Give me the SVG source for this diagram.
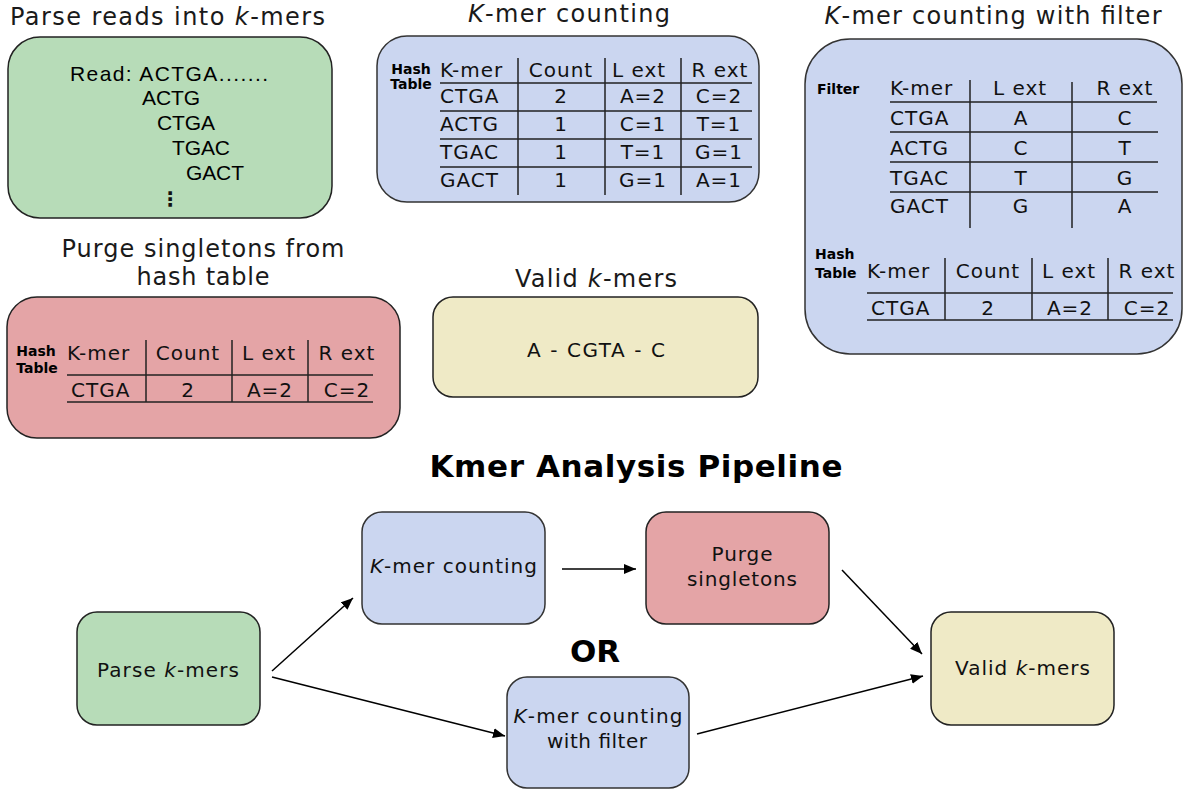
<svg xmlns="http://www.w3.org/2000/svg" width="1184" height="790" viewBox="0 0 1184 790">
  <style>
    .title { font-family: "DejaVu Sans", Verdana, sans-serif; font-size: 24px; fill: #1a1a1a; }
    .head { font-family: "DejaVu Sans", Verdana, sans-serif; font-size: 31px; font-weight: bold; fill: #000; }
    .read { font-family: "Liberation Sans", Arial, sans-serif; font-size: 21px; fill: #000; }
    .cell { font-family: "DejaVu Sans", Verdana, sans-serif; font-size: 20px; fill: #111; letter-spacing: 1px; }
    .lbl { font-family: "DejaVu Sans", Verdana, sans-serif; font-size: 14px; font-weight: bold; fill: #000; }
    .node { font-family: "DejaVu Sans", Verdana, sans-serif; font-size: 20px; fill: #111; }
    .mid { text-anchor: middle; }
    .green { fill: #b7dcb8; stroke: #222; stroke-width: 1.5; }
    .blue { fill: #cbd6f0; stroke: #333; stroke-width: 1.5; }
    .red { fill: #e4a4a6; stroke: #222; stroke-width: 1.5; }
    .yellow { fill: #efeac6; stroke: #222; stroke-width: 1.5; }
    .rule { stroke: #222; stroke-width: 1.5; fill: none; }
    .conn { stroke: #000; stroke-width: 1.5; fill: none; marker-end: url(#arrow); }
  </style>
  <defs>
    <marker id="arrow" markerUnits="userSpaceOnUse" markerWidth="12" markerHeight="10" refX="12" refY="5" orient="auto">
      <path d="M0,0 L12,5 L0,10 z" fill="#000"/>
    </marker>
  </defs>
  <rect width="1184" height="790" fill="#fff"/>

  <!-- Parse reads panel -->
  <g id="panel-parse">
    <text class="title" x="10" y="25" textLength="315" lengthAdjust="spacing">Parse reads into <tspan font-style="italic">k</tspan>-mers</text>
    <rect class="green" x="8" y="37" width="324" height="181" rx="32"/>
    <text class="read" x="70" y="81" textLength="198" lengthAdjust="spacing">Read: ACTGA.......</text>
    <text class="read" x="142" y="105" textLength="58" lengthAdjust="spacing">ACTG</text>
    <text class="read" x="157" y="130" textLength="58" lengthAdjust="spacing">CTGA</text>
    <text class="read" x="172" y="155" textLength="58" lengthAdjust="spacing">TGAC</text>
    <text class="read" x="186" y="180" textLength="58" lengthAdjust="spacing">GACT</text>
    <text class="node mid" x="170" y="206" font-size="22" font-weight="bold">⋮</text>
  </g>

  <!-- K-mer counting panel -->
  <g id="panel-count">
    <text class="title mid" x="569" y="22" textLength="202" lengthAdjust="spacing"><tspan font-style="italic">K</tspan>-mer counting</text>
    <rect class="blue" x="377" y="36" width="382" height="166" rx="30"/>
    <text class="lbl mid" x="411" y="74">Hash</text>
    <text class="lbl mid" x="411" y="89">Table</text>
    <path class="rule" d="M518,58 V195 M605,58 V195 M681,58 V195 M440,83 H752 M440,111 H752 M440,139 H752 M440,167 H752"/>
    <text class="cell" x="440" y="77">K-mer</text>
    <text class="cell mid" x="561" y="77">Count</text>
    <text class="cell mid" x="639" y="77">L ext</text>
    <text class="cell mid" x="720" y="77">R ext</text>
    <text class="cell" x="440" y="103">CTGA</text>
    <text class="cell mid" x="561" y="103">2</text>
    <text class="cell mid" x="643" y="103">A=2</text>
    <text class="cell mid" x="719" y="103">C=2</text>
    <text class="cell" x="440" y="131">ACTG</text>
    <text class="cell mid" x="561" y="131">1</text>
    <text class="cell mid" x="643" y="131">C=1</text>
    <text class="cell mid" x="719" y="131">T=1</text>
    <text class="cell" x="440" y="159">TGAC</text>
    <text class="cell mid" x="561" y="159">1</text>
    <text class="cell mid" x="643" y="159">T=1</text>
    <text class="cell mid" x="719" y="159">G=1</text>
    <text class="cell" x="440" y="187">GACT</text>
    <text class="cell mid" x="561" y="187">1</text>
    <text class="cell mid" x="643" y="187">G=1</text>
    <text class="cell mid" x="719" y="187">A=1</text>
  </g>

  <!-- K-mer counting with filter panel -->
  <g id="panel-filter">
    <text class="title mid" x="993" y="24" textLength="337" lengthAdjust="spacing"><tspan font-style="italic">K</tspan>-mer counting with filter</text>
    <rect class="blue" x="805" y="39" width="377" height="315" rx="45"/>
    <text class="lbl" x="817" y="94" font-size="15">Filter</text>
    <path class="rule" d="M970,80 V228 M1072,82 V228 M890,102 H1157 M890,132 H1158 M890,162 H1158 M890,192 H1158"/>
    <text class="cell" x="890" y="95" font-size="17" letter-spacing="0.5">K-mer</text>
    <text class="cell mid" x="1020" y="95">L ext</text>
    <text class="cell mid" x="1125" y="95">R ext</text>
    <text class="cell" x="890" y="125">CTGA</text>
    <text class="cell mid" x="1021" y="125">A</text>
    <text class="cell mid" x="1125" y="125">C</text>
    <text class="cell" x="890" y="155">ACTG</text>
    <text class="cell mid" x="1021" y="155">C</text>
    <text class="cell mid" x="1125" y="155">T</text>
    <text class="cell" x="890" y="185">TGAC</text>
    <text class="cell mid" x="1021" y="185">T</text>
    <text class="cell mid" x="1125" y="185">G</text>
    <text class="cell" x="890" y="213">GACT</text>
    <text class="cell mid" x="1021" y="213">G</text>
    <text class="cell mid" x="1125" y="213">A</text>
    <text class="lbl" x="815" y="259" font-size="15" fill="#1c2550">Hash</text>
    <text class="lbl" x="815" y="278" font-size="15" fill="#1c2550">Table</text>
    <path class="rule" d="M945,258 V320 M1032,258 V320 M1108,258 V320 M867,293 H1173 M867,320 H1173"/>
    <text class="cell" x="867" y="278">K-mer</text>
    <text class="cell mid" x="988" y="278">Count</text>
    <text class="cell mid" x="1069" y="278">L ext</text>
    <text class="cell mid" x="1147" y="278">R ext</text>
    <text class="cell" x="871" y="315">CTGA</text>
    <text class="cell mid" x="988" y="315">2</text>
    <text class="cell mid" x="1070" y="315">A=2</text>
    <text class="cell mid" x="1147" y="315">C=2</text>
  </g>

  <!-- Purge singletons panel -->
  <g id="panel-purge">
    <text class="title mid" x="203" y="257" textLength="283" lengthAdjust="spacing">Purge singletons from</text>
    <text class="title mid" x="203" y="285" textLength="133" lengthAdjust="spacing">hash table</text>
    <rect class="red" x="7" y="297" width="393" height="141" rx="30"/>
    <text class="lbl mid" x="36" y="356">Hash</text>
    <text class="lbl mid" x="37" y="373">Table</text>
    <path class="rule" d="M146,340 V402 M232,340 V402 M308,340 V402 M67,375 H373 M67,402 H373"/>
    <text class="cell" x="67" y="360">K-mer</text>
    <text class="cell mid" x="188" y="360">Count</text>
    <text class="cell mid" x="269" y="360">L ext</text>
    <text class="cell mid" x="347" y="360">R ext</text>
    <text class="cell" x="71" y="397">CTGA</text>
    <text class="cell mid" x="188" y="397">2</text>
    <text class="cell mid" x="270" y="397">A=2</text>
    <text class="cell mid" x="347" y="397">C=2</text>
  </g>

  <!-- Valid k-mers panel -->
  <g id="panel-valid">
    <text class="title mid" x="596" y="287" textLength="162" lengthAdjust="spacing">Valid <tspan font-style="italic">k</tspan>-mers</text>
    <rect class="yellow" x="433" y="297" width="325" height="100" rx="20"/>
    <text class="node mid" x="596" y="357" textLength="138" lengthAdjust="spacing">A - CGTA - C</text>
  </g>

  <!-- Pipeline headings -->
  <text class="head mid" x="636" y="477" textLength="413" lengthAdjust="spacing">Kmer Analysis Pipeline</text>
  <text class="head mid" x="595" y="662">OR</text>

  <!-- Pipeline steps -->
  <g id="step-parse">
    <rect class="green" x="77" y="612" width="183" height="113" rx="20"/>
    <text class="node" x="97" y="677" textLength="142" lengthAdjust="spacing">Parse <tspan font-style="italic">k</tspan>-mers</text>
  </g>
  <g id="step-count">
    <rect class="blue" x="362" y="512" width="183" height="112" rx="20"/>
    <text class="node" x="370" y="573" textLength="167" lengthAdjust="spacing"><tspan font-style="italic">K</tspan>-mer counting</text>
  </g>
  <g id="step-purge">
    <rect class="red" x="646" y="512" width="183" height="112" rx="20"/>
    <text class="node mid" x="742" y="561" textLength="61" lengthAdjust="spacing">Purge</text>
    <text class="node mid" x="742" y="586" textLength="110" lengthAdjust="spacing">singletons</text>
  </g>
  <g id="step-filter">
    <rect class="blue" x="507" y="677" width="182" height="111" rx="20"/>
    <text class="node mid" x="598" y="723" textLength="169" lengthAdjust="spacing"><tspan font-style="italic">K</tspan>-mer counting</text>
    <text class="node mid" x="597" y="748" textLength="100" lengthAdjust="spacing">with filter</text>
  </g>
  <g id="step-valid">
    <rect class="yellow" x="931" y="612" width="183" height="113" rx="20"/>
    <text class="node" x="955" y="675" textLength="135" lengthAdjust="spacing">Valid <tspan font-style="italic">k</tspan>-mers</text>
  </g>

  <!-- Connectors -->
  <g id="connectors">
    <line class="conn" x1="272" y1="671" x2="353" y2="598"/>
    <line class="conn" x1="272" y1="677" x2="505" y2="736"/>
    <line class="conn" x1="562" y1="569" x2="636" y2="569"/>
    <line class="conn" x1="842" y1="570" x2="922" y2="654"/>
    <line class="conn" x1="697" y1="734" x2="923" y2="676"/>
  </g>
</svg>
